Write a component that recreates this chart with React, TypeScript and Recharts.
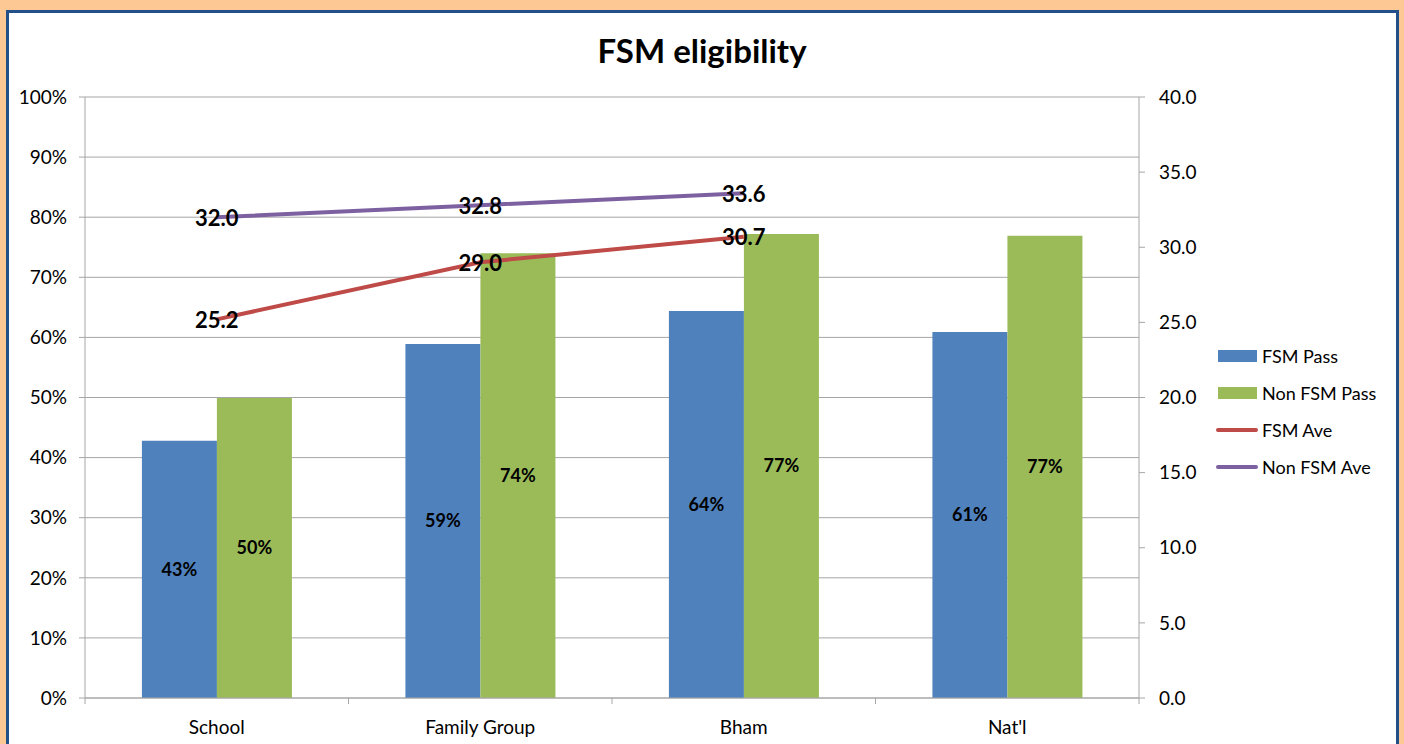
import React from 'react';
import { ComposedChart, Bar, Line, XAxis, YAxis, CartesianGrid, LabelList } from 'recharts';

const categories = ['School', 'Family Group', 'Bham', "Nat'l"];
const fsmPass = [42.8, 58.9, 64.4, 60.9];
const nonFsmPass = [49.9, 74.0, 77.2, 76.9];
const fsmAve: (number | null)[] = [25.2, 29.0, 30.7, null];
const nonFsmAve: (number | null)[] = [32.0, 32.8, 33.6, null];
const leftTicks = [0, 10, 20, 30, 40, 50, 60, 70, 80, 90, 100];
const rightTicks = [0, 5, 10, 15, 20, 25, 30, 35, 40];

const data = categories.map((name, i) => ({
  name,
  fsmPass: fsmPass[i],
  nonFsmPass: nonFsmPass[i],
  fsmAve: fsmAve[i],
  nonFsmAve: nonFsmAve[i],
}));

const FONT = 'Lato, "Open Sans", sans-serif';
const PLOT_LEFT = 85;
const PLOT_RIGHT = 1139;
const PLOT_BOTTOM = 698;
const BAND = (PLOT_RIGHT - PLOT_LEFT) / categories.length;
const AXIS_GREY = '#a6a6a6';

const pct = (v: any) => `${Math.round(Number(v))}%`;

const CategoryTick = (props: any) => {
  const { x, payload, index } = props;
  return (
    <g>
      <line x1={x - BAND / 2} x2={x - BAND / 2} y1={PLOT_BOTTOM} y2={PLOT_BOTTOM + 6} stroke={AXIS_GREY} />
      {index === categories.length - 1 && (
        <line x1={x + BAND / 2} x2={x + BAND / 2} y1={PLOT_BOTTOM} y2={PLOT_BOTTOM + 6} stroke={AXIS_GREY} />
      )}
      <text x={x} y={PLOT_BOTTOM + 28} textAnchor="middle" dominantBaseline="central" fontSize={19} fill="#000">
        {payload.value}
      </text>
    </g>
  );
};

const lineLabel = (props: any) => {
  const { x, y, value } = props;
  if (value == null) return null;
  return (
    <text x={x} y={y} textAnchor="middle" dominantBaseline="central" fontSize={22} fontWeight="bold" fill="#000">
      {Number(value).toFixed(1)}
    </text>
  );
};

const legendItems = [
  { label: 'FSM Pass', color: '#4f81bd', kind: 'bar' },
  { label: 'Non FSM Pass', color: '#9bbb59', kind: 'bar' },
  { label: 'FSM Ave', color: '#be4b48', kind: 'line' },
  { label: 'Non FSM Ave', color: '#7d60a0', kind: 'line' },
];

export default function App() {
  return (
    <div style={{ position: 'absolute', left: 0, top: 0, width: 1404, height: 744, background: '#fdc894', overflow: 'hidden', fontFamily: FONT }}>
      <div style={{ position: 'absolute', left: 6, top: 10, width: 1387, height: 760, border: '3px solid #24508a', background: '#fff' }} />
      <div style={{ position: 'absolute', left: 0, top: 30, width: 1404, textAlign: 'center', fontSize: 33, fontWeight: 'bold', color: '#000' }}>
        FSM eligibility
      </div>
      <div style={{ position: 'absolute', left: 0, top: 0 }}>
        <ComposedChart
          width={1404}
          height={744}
          data={data}
          margin={{ top: 97, right: 205, bottom: 16, left: 15 }}
          barCategoryGap="21.6%"
          barGap={0}
          style={{ fontFamily: FONT }}
        >
          <CartesianGrid vertical={false} stroke={AXIS_GREY} yAxisId="left" />
          <XAxis dataKey="name" axisLine={{ stroke: AXIS_GREY }} tickLine={false} tick={<CategoryTick />} interval={0} />
          <YAxis
            yAxisId="left"
            width={70}
            domain={[0, 100]}
            ticks={leftTicks}
            tickFormatter={(v: number) => `${v}%`}
            axisLine={{ stroke: AXIS_GREY }}
            tickLine={{ stroke: AXIS_GREY }}
            tickMargin={12}
            tick={{ fontSize: 19, fill: '#000' }}
          />
          <YAxis
            yAxisId="right"
            orientation="right"
            width={60}
            domain={[0, 40]}
            ticks={rightTicks}
            tickFormatter={(v: number) => v.toFixed(1)}
            axisLine={{ stroke: AXIS_GREY }}
            tickLine={{ stroke: AXIS_GREY }}
            tickMargin={14}
            tick={{ fontSize: 19, fill: '#000', textAnchor: 'start' }}
          />
          <Bar yAxisId="left" dataKey="fsmPass" fill="#4f81bd" isAnimationActive={false}>
            <LabelList dataKey="fsmPass" position="center" formatter={pct} style={{ fontSize: 18, fontWeight: 'bold', fill: '#000' }} />
          </Bar>
          <Bar yAxisId="left" dataKey="nonFsmPass" fill="#9bbb59" isAnimationActive={false}>
            <LabelList dataKey="nonFsmPass" position="center" formatter={pct} style={{ fontSize: 18, fontWeight: 'bold', fill: '#000' }} />
          </Bar>
          <Line yAxisId="right" dataKey="fsmAve" stroke="#be4b48" strokeWidth={4} dot={false} isAnimationActive={false}>
            <LabelList dataKey="fsmAve" content={lineLabel} />
          </Line>
          <Line yAxisId="right" dataKey="nonFsmAve" stroke="#7d60a0" strokeWidth={4} dot={false} isAnimationActive={false}>
            <LabelList dataKey="nonFsmAve" content={lineLabel} />
          </Line>
        </ComposedChart>
      </div>
      <div style={{ position: 'absolute', left: 1216, top: 337 }}>
        {legendItems.map((it) => (
          <div key={it.label} style={{ display: 'flex', alignItems: 'center', height: 37, fontSize: 18, color: '#000' }}>
            <div style={{ width: 42, display: 'flex', justifyContent: 'center' }}>
              {it.kind === 'bar' ? (
                <div style={{ width: 39, height: 12, background: it.color }} />
              ) : (
                <div style={{ width: 42, height: 4, borderRadius: 2, background: it.color }} />
              )}
            </div>
            <span style={{ marginLeft: 4 }}>{it.label}</span>
          </div>
        ))}
      </div>
    </div>
  );
}
